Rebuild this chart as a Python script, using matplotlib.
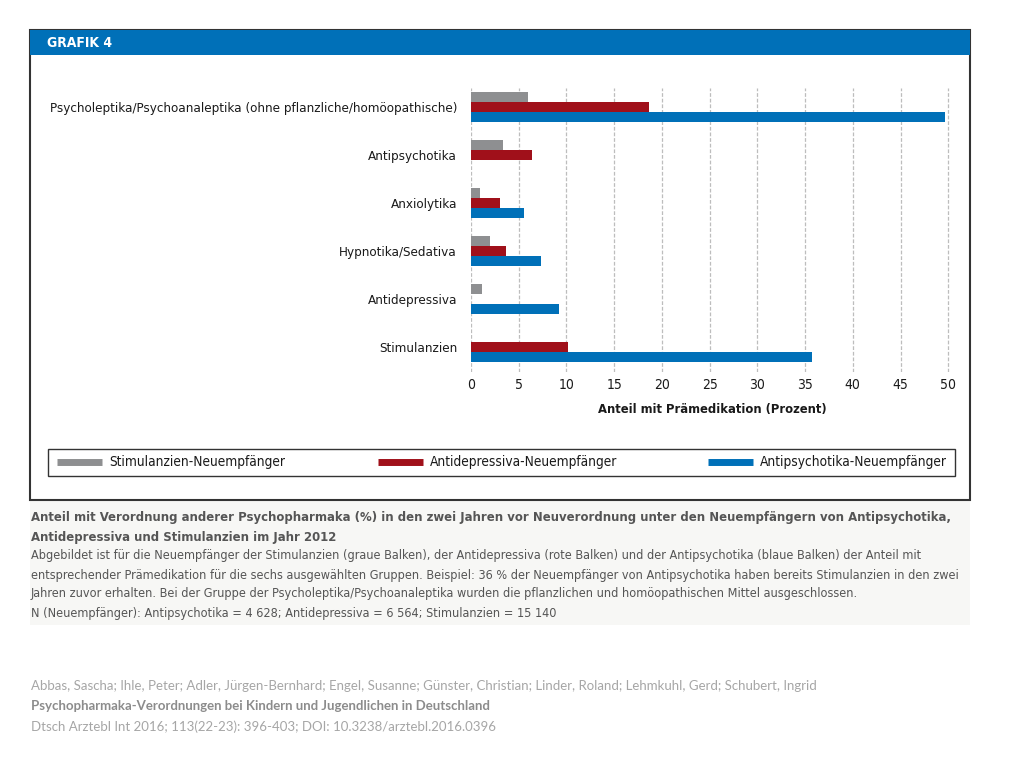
import matplotlib
matplotlib.use("Agg")
import matplotlib.pyplot as plt
from matplotlib.patches import Rectangle
from matplotlib.lines import Line2D

# data (percent with premedication)
groups = ["Psycholeptika/Psychoanaleptika (ohne pflanzliche/homöopathische)",
          "Antipsychotika", "Anxiolytika", "Hypnotika/Sedativa",
          "Antidepressiva", "Stimulanzien"]
stimulanzien = [6.0, 3.4, 0.9, 2.0, 1.2, 0.0]
antidepressiva = [18.7, 6.4, 3.0, 3.7, 0.0, 10.2]
antipsychotika = [49.7, 0.0, 5.6, 7.3, 9.2, 35.7]
series_names = ["Stimulanzien-Neuempfänger", "Antidepressiva-Neuempfänger",
                "Antipsychotika-Neuempfänger"]
xticks = [0, 5, 10, 15, 20, 25, 30, 35, 40, 45, 50]

GRAY = "#8e8f91"
RED = "#a0101a"
BLUE = "#0070b8"
TXT = "#1a1a1a"
COND = dict(family="DejaVu Sans", fontstretch="condensed")

W, H = 1024, 768
fig = plt.figure(figsize=(W / 100, H / 100), dpi=100)
fig.patch.set_facecolor("white")


def fx(px):
    return px / W


def fy(py):
    return 1 - py / H


# caption background and outer frame
fig.patches.append(Rectangle((fx(30), fy(625)), fx(940), 125 / H,
                             transform=fig.transFigure, facecolor="#f7f7f5",
                             edgecolor="none", zorder=0))
fig.patches.append(Rectangle((fx(30), fy(500)), fx(940), 470 / H,
                             transform=fig.transFigure, facecolor="white",
                             edgecolor="#333333", lw=1.5, zorder=1))
fig.patches.append(Rectangle((fx(30), fy(55)), fx(940), 25 / H,
                             transform=fig.transFigure, facecolor=BLUE,
                             edgecolor="none", zorder=2))
fig.text(fx(47), fy(43), "GRAFIK 4", color="white", fontsize=10,
         fontweight="bold", va="center", ha="left", zorder=3, **COND)

# main bar chart
ax = fig.add_axes([fx(471), fy(372), fx(482), (372 - 88) / H])
ax.set_zorder(5)
ax.set_facecolor("none")
bh = 10 / 48
pos = list(range(len(groups)))
ax.barh([p - bh for p in pos], stimulanzien, height=bh, color=GRAY, zorder=3)
ax.barh(pos, antidepressiva, height=bh, color=RED, zorder=3)
ax.barh([p + bh for p in pos], antipsychotika, height=bh, color=BLUE, zorder=3)
ax.set_ylim(5.52, -0.396)
ax.set_xlim(0, 50.5)
ax.set_xticks(xticks)
ax.set_xticklabels([str(t) for t in xticks], fontsize=10, color=TXT, **COND)
ax.set_yticks(pos)
ax.set_yticklabels(groups, fontsize=9.6, color=TXT, **COND)
ax.tick_params(axis="both", length=0)
ax.tick_params(axis="x", pad=4)
ax.tick_params(axis="y", pad=10)
for s in ax.spines.values():
    s.set_visible(False)
ax.grid(axis="x", color="#bdbdbd", lw=0.9, ls=(0, (3, 1.5)), zorder=0)
ax.set_xlabel("Anteil mit Prämedikation (Prozent)", fontsize=9.3,
              fontweight="bold", color=TXT, labelpad=8, **COND)

# legend box
fig.patches.append(Rectangle((fx(48), fy(476)), fx(907), 27 / H,
                             transform=fig.transFigure, facecolor="none",
                             edgecolor="#333333", lw=1.0, zorder=2))
leg_x = [57, 378, 708]
for x0, name, c in zip(leg_x, series_names, [GRAY, RED, BLUE]):
    fig.lines.append(Line2D([fx(x0), fx(x0 + 45)], [fy(462), fy(462)],
                            transform=fig.transFigure, color=c, lw=5,
                            solid_capstyle="butt", zorder=3))
    fig.text(fx(x0 + 52), fy(462), name, fontsize=9.8, color=TXT,
             va="center", ha="left", zorder=3, **COND)

# caption
CAP = "#555555"
fig.text(fx(31), fy(518), "Anteil mit Verordnung anderer Psychopharmaka (%) in den zwei Jahren vor "
         "Neuverordnung unter den Neuempfängern von Antipsychotika,",
         fontsize=9.4, fontweight="bold", color=CAP, va="center", **COND)
fig.text(fx(31), fy(537), "Antidepressiva und Stimulanzien im Jahr 2012",
         fontsize=9.4, fontweight="bold", color=CAP, va="center", **COND)
body = ["Abgebildet ist für die Neuempfänger der Stimulanzien (graue Balken), der Antidepressiva "
        "(rote Balken) und der Antipsychotika (blaue Balken) der Anteil mit",
        "entsprechender Prämedikation für die sechs ausgewählten Gruppen. Beispiel: 36 % der "
        "Neuempfänger von Antipsychotika haben bereits Stimulanzien in den zwei",
        "Jahren zuvor erhalten. Bei der Gruppe der Psycholeptika/Psychoanaleptika wurden die "
        "pflanzlichen und homöopathischen Mittel ausgeschlossen.",
        "N (Neuempfänger): Antipsychotika = 4 628; Antidepressiva = 6 564; Stimulanzien = 15 140"]
for i, line in enumerate(body):
    fig.text(fx(31), fy(556 + 19 * i), line, fontsize=9.1, color=CAP,
             va="center", **COND)

# citation footer
FOOT = "#a6a6a6"
FONT_F = ["Lato", "DejaVu Sans"]
fig.text(fx(31), fy(686), "Abbas, Sascha; Ihle, Peter; Adler, Jürgen-Bernhard; Engel, Susanne; "
         "Günster, Christian; Linder, Roland; Lehmkuhl, Gerd; Schubert, Ingrid",
         family=FONT_F, fontsize=9.5, color=FOOT, va="center")
fig.text(fx(31), fy(706), "Psychopharmaka-Verordnungen bei Kindern und Jugendlichen in Deutschland",
         family=FONT_F, fontsize=9.5, fontweight="bold", color="#8c8c8c", va="center")
fig.text(fx(31), fy(727), "Dtsch Arztebl Int 2016; 113(22-23): 396-403; DOI: 10.3238/arztebl.2016.0396",
         family=FONT_F, fontsize=9.5, color=FOOT, va="center")

fig.savefig("out.png", dpi=100)
